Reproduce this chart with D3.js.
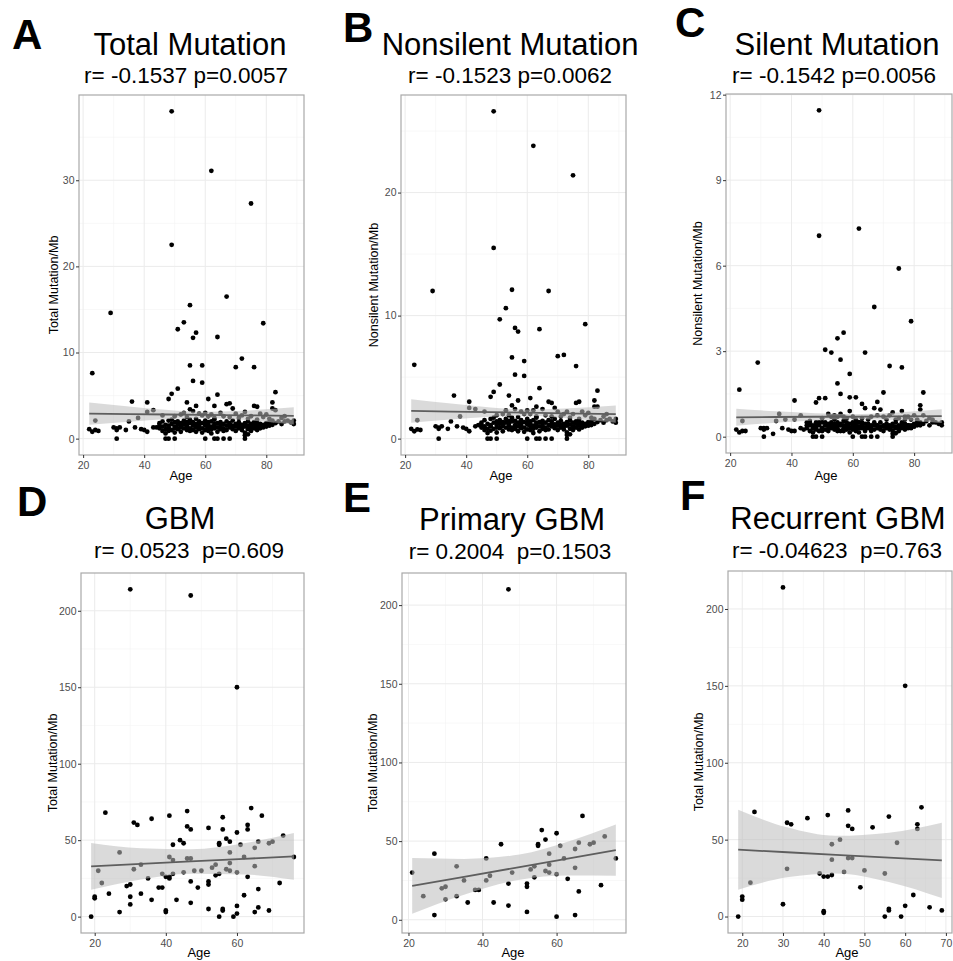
<!DOCTYPE html>
<html>
<head>
<meta charset="utf-8">
<script src="https://cdn.jsdelivr.net/npm/d3@7"></script>
<style>
  body { margin: 0; background: #fff; }
  svg text { font-family: "Liberation Sans", Arial, sans-serif; }
</style>
</head>
<body>
<svg id="fig" width="953" height="961"></svg>
<script>
// ---- TCGA cohort (panels A-C): same patients, age + mutation rates ----
var tcgaAge = [
  // outliers
  49,62,75,49,29,67,55,53,51,57, 56,64,79,23,55,59,72,70,76,56,
  59,51,49,48,83,61,64,36,41,54, 82,82,67,68,76,77,57,63,69,55, 83,
  // points inside the band
  24,35,38,41,43,46,50,52,53,54, 56,58,59,60,61,62,63,65,66,68,
  70,71,72,73,74,75,77,78,79,80, 81,84,85,86,87,88,
  // young, low
  22,23,24,25,30,31,31,31,32,34, 37,39,40,41,43,44,45,
  // zeros
  47,48,50,60,63,64,66,68,73,73,74,
  // dense cluster
  45,45, 46,46,46, 47,47,47, 48,48,48,48, 49,49,49,
  50,50,50,50, 51,51,51, 52,52,52,52, 53,53,53, 54,54,54,54,
  55,55,55,55, 56,56,56, 57,57,57,57, 58,58,58,58, 59,59,59,
  60,60,60,60, 61,61,61,61, 62,62,62,62, 63,63,63,63, 64,64,64,
  65,65,65,65, 66,66,66, 67,67,67, 68,68,68, 69,69,69,
  70,70,70, 71,71,71, 72,72,72, 73,73,73, 74,74,74,
  75,75,75, 76,76,76, 77,77,77, 78,78,78, 79,79,
  80,80, 81,81, 82,82, 83, 85, 86, 89,89
];
var tcgaTotal = [
  38.0,31.1,27.3,22.5,14.6,16.5,15.5,13.5,12.7,12.3, 11.7,11.8,13.4,7.6,8.5,8.5,9.3,8.3,8.3,6.7,
  6.5,5.8,5.2,4.6,5.4,4.6,5.1,4.3,4.2,4.2, 4.2,3.5,4.0,4.1,3.8,3.7,3.8,3.8,3.5,3.4, 3.3,
  2.1,2.0,2.4,3.1,3.3,2.7,2.6,2.8,3.0,2.5, 3.2,2.9,2.7,3.0,2.6,2.8,2.4,3.0,2.6,2.5,
  2.9,2.4,2.7,3.1,2.3,2.6,2.2,2.9,2.5,2.8, 2.3,2.0,2.4,2.6,2.1,1.9,
  1.1,0.8,1.0,0.9,1.3,1.0,1.2,0.0,1.3,1.0, 1.3,1.1,1.0,0.8,1.3,1.3,1.5,
  0,0,0,0,0,0,0,0,0,0.4,0.5,
  1.2,1.8, 1.4,0.9,2.0, 1.6,1.1,0.6, 1.5,2.1,0.9,1.3, 1.7,1.0,2.2,
  1.4,1.9,0.7,1.2, 1.6,1.1,2.0, 1.3,1.8,0.8,1.5, 1.7,1.2,2.1, 1.4,1.9,1.0,1.6,
  1.2,1.8,2.2,0.9, 1.5,1.0,1.9, 1.3,1.7,2.3,0.8, 1.6,1.1,2.0,1.4, 1.2,1.8,0.7,
  1.5,1.0,2.1,1.7, 1.3,1.9,0.9,1.6, 1.4,1.1,2.0,0.6, 1.7,1.2,1.5,2.2, 1.3,1.8,0.8,
  1.6,1.1,1.9,1.4, 1.2,1.7,0.9, 1.5,2.0,1.0, 1.3,1.8,1.6, 1.1,1.5,2.1,
  1.4,0.9,1.7, 1.2,1.9,1.5, 1.6,1.0,1.3, 1.8,1.4,0.7, 1.5,1.1,2.0,
  1.3,1.7,0.9, 1.6,1.2,1.9, 1.4,1.8,1.0, 1.5,1.2,1.7, 1.3,1.6,
  1.4,1.8, 1.5,1.9, 1.6,2.1, 1.8, 1.7, 2.0, 2.1,1.7
];
var tcgaNonsilent = [
  26.6,23.8,21.4,15.5,12.0,12.0,12.1,10.6,9.7,8.7, 9.0,8.9,9.3,6.0,6.6,6.3,6.8,6.7,5.9,5.2,
  5.1,4.4,3.8,3.4,3.9,3.3,4.1,3.5,3.0,3.5, 3.1,2.6,3.0,2.9,2.9,3.0,3.1,2.6,2.5,2.7, 2.6,
  1.5,1.4,1.8,2.5,2.4,2.2,1.9,2.0,2.3,1.9, 2.4,2.2,2.0,2.3,2.0,2.3,1.8,2.4,1.9,1.8,
  2.2,1.8,2.0,2.2,1.7,2.0,1.6,2.2,1.9,2.1, 1.7,1.5,1.8,2.0,1.6,1.4,
  0.8,0.6,0.75,0.7,1.0,0.8,0.9,0.0,1.0,0.8, 1.0,0.9,0.8,0.6,1.0,1.1,1.1,
  0,0,0,0,0,0,0,0,0,0.3,0.35,
  0.9,1.3, 1.0,0.7,1.5, 1.2,0.8,0.45, 1.1,1.6,0.65,1.0, 1.3,0.8,1.7,
  1.1,1.4,0.5,0.9, 1.2,0.85,1.5, 1.0,1.35,0.6,1.1, 1.3,0.9,1.6, 1.05,1.45,0.75,1.2,
  0.9,1.4,1.7,0.7, 1.1,0.8,1.45, 1.0,1.3,1.75,0.6, 1.2,0.85,1.5,1.05, 0.9,1.35,0.55,
  1.15,0.75,1.6,1.3, 1.0,1.4,0.7,1.2, 1.05,0.8,1.5,0.45, 1.3,0.9,1.15,1.7, 1.0,1.35,0.6,
  1.2,0.8,1.45,1.05, 0.9,1.3,0.7, 1.1,1.5,0.75, 1.0,1.4,1.2, 0.85,1.15,1.6,
  1.05,0.7,1.3, 0.9,1.45,1.1, 1.2,0.75,1.0, 1.35,1.05,0.5, 1.15,0.8,1.5,
  1.0,1.3,0.7, 1.2,0.9,1.4, 1.05,1.35,0.75, 1.1,0.9,1.3, 1.0,1.2,
  1.05,1.35, 1.1,1.4, 1.2,1.6, 1.35, 1.3, 1.5, 1.6,1.3
];
var tcgaSilent = [
  11.45,7.3,5.9,7.05,2.6,4.55,3.45,2.95,3.05,3.65, 2.7,2.95,4.05,1.65,1.87,2.2,2.48,1.55,2.43,1.5,
  1.38,1.35,1.35,1.2,1.55,1.38,1.0,0.8,1.27,0.75, 1.1,0.95,1.0,1.22,0.9,0.7,0.7,1.15,0.95,0.7, 0.75,
  0.55,0.55,0.6,0.6,0.75,0.55,0.65,0.8,0.7,0.6, 0.8,0.65,0.9,0.7,0.6,0.5,0.65,0.6,0.7,0.75,
  0.7,0.6,0.75,0.85,0.6,0.65,0.6,0.7,0.6,0.75, 0.6,0.55,0.65,0.6,0.5,0.45,
  0.25,0.15,0.2,0.2,0.3,0.25,0.3,0.0,0.3,0.1, 0.3,0.25,0.2,0.2,0.3,0.25,0.4,
  0,0,0,0,0,0,0,0,0,0.1,0.12,
  0.3,0.5, 0.4,0.2,0.5, 0.4,0.3,0.15, 0.4,0.5,0.25,0.3, 0.4,0.2,0.5,
  0.3,0.5,0.2,0.3, 0.4,0.25,0.5, 0.3,0.45,0.2,0.4, 0.4,0.3,0.5, 0.35,0.45,0.25,0.4,
  0.3,0.4,0.5,0.2, 0.4,0.2,0.45, 0.3,0.4,0.55,0.2, 0.4,0.25,0.5,0.35, 0.3,0.45,0.15,
  0.35,0.25,0.5,0.4, 0.3,0.5,0.2,0.4, 0.35,0.3,0.5,0.15, 0.4,0.3,0.35,0.5, 0.3,0.45,0.2,
  0.4,0.3,0.45,0.35, 0.3,0.4,0.2, 0.4,0.5,0.25, 0.3,0.4,0.4, 0.25,0.35,0.5,
  0.35,0.2,0.4, 0.3,0.45,0.4, 0.4,0.25,0.3, 0.45,0.35,0.2, 0.35,0.3,0.5,
  0.3,0.4,0.2, 0.4,0.3,0.5, 0.35,0.45,0.25, 0.4,0.3,0.4, 0.3,0.4,
  0.35,0.45, 0.4,0.5, 0.4,0.5, 0.45, 0.4, 0.5, 0.5,0.4
];

// ---- GBM cohorts (panels D-F) ----
var gbmAge = [
  30,47,60,19,20,20,21,22,23,24, 27,27,29,30,30,30,31,32,31,33,
  33,35,36,36,38,39,39,40,40,40, 41,41,41,41,42,42,42,43,44,45,
  45,46,46,46,47,47,47,47,48,49, 50,52,52,52,52,53,54,54,55,55,
  55,55,56,56,56,56,57,57,58,58, 58,58,59,60,60,60,60,61,62,62,
  63,63,63,64,65,65,65,66,66,66, 67,69,69,70,72,73,76
];
var gbmTotal = [
  214,210,150,0,13,12,30,22,68,15, 42,3,20,21,13,8,61.5,60,31,34,
  15,25,64,11,19,19,28,26,4,3, 66,26,25,39,47,37,28,11,50,48,
  29,69,59,38,38,57,23,9,30,19, 30,58,23,21,5,32,34,27,28,48,
  47,0,65,57,5,4,31,51,49,42, 35,30,0,55,29,7,2,47,39,14,
  60,57,26,71,45,33,3,49,18,6, 66,48,4,49,22,53,39
];
var primAge = [
  47,21,24,27,27,29,30,30,33,33, 35,36,38,39,41,41,42,43,45,47,
  47,48,52,52,52,53,54,54,55,55, 56,57,57,58,58,58,60,60,60,61,
  62,63,65,65,65,66,66,67,69,70, 72,73,76
];
var primTotal = [
  210,30,15,42,3,20,21,13,34,15, 25,11,19,19,39,25,28,11,48,23,
  9,30,23,21,5,32,34,27,48,47, 57,51,31,42,35,30,55,29,2,47,
  39,26,45,33,3,49,18,66,48,49, 22,53,39
];
var recAge = [
  30,60,19,20,20,22,23,30,31,31, 32,36,39,40,40,40,41,41,42,42,
  42,44,45,46,46,46,47,47,49,50, 52,55,55,56,56,56,58,59,60,62,
  63,63,64,66,69
];
var recTotal = [
  214,150,0,13,11,22,68,8,61,31, 60,64,28,26,3.5,2.4,66,26,47,37,
  27,50,29,69,59,38,38,57,19,30, 58,28,0,65,5,4,48,0,7,14,
  60,57,71,6,4
];

// ---- fitted lines and 95% bands ----
var tcgaFitAge    = [22, 35, 48, 60, 72, 89];
var totalFit      = [2.9, 2.85, 2.8, 2.76, 2.71, 2.65];
var totalLo       = [1.6, 1.96, 2.27, 2.41, 2.18, 1.65];
var totalHi       = [4.2, 3.74, 3.33, 3.11, 3.24, 3.65];
var nonsilentFit  = [2.25, 2.2, 2.15, 2.11, 2.06, 2.0];
var nonsilentLo   = [1.3, 1.55, 1.77, 1.86, 1.68, 1.3];
var nonsilentHi   = [3.2, 2.85, 2.53, 2.36, 2.44, 2.7];
var silentFit     = [0.68, 0.69, 0.70, 0.70, 0.71, 0.72];
var silentLo      = [0.38, 0.49, 0.58, 0.61, 0.59, 0.48];
var silentHi      = [0.98, 0.89, 0.82, 0.79, 0.83, 0.96];
var gbmFitAge  = [19, 33, 47, 62, 76];
var gbmFit     = [32.9, 34.5, 36.1, 37.8, 39.4];
var gbmLo      = [17.6, 24.3, 28.1, 27.6, 24.1];
var gbmHi      = [48.2, 44.7, 44.1, 48.0, 54.7];
var primFitAge = [21, 35, 50, 63, 76];
var primFit    = [21.5, 27.3, 33.5, 38.9, 44.3];
var primLo     = [3.8, 15.9, 25.5, 28.2, 28.0];
var primHi     = [39.2, 38.7, 41.5, 49.6, 60.6];
var recFitAge  = [19, 31, 43, 56, 69];
var recFit     = [43.5, 41.8, 40.1, 38.3, 36.5];
var recLo      = [17.5, 25.5, 28.0, 22.5, 12.0];
var recHi      = [69.5, 58.0, 52.5, 54.5, 61.0];

// ---- tick labels ----
var ageTicksTcga = [20, 40, 60, 80];
var ageTicksGbm  = [20, 40, 60];
var ageTicksRec  = [20, 30, 40, 50, 60, 70];
var totalTicks     = [0, 10, 20, 30];
var nonsilentTicks = [0, 10, 20];
var silentTicks    = [0, 3, 6, 9, 12];
var gbmTicks       = [0, 50, 100, 150, 200];

var panels = [
  {letter: "A", lx: 12, ly: 49, title: "Total Mutation", tx: 190, ty: 55,
   stat: "r= -0.1537 p=0.0057", sx: 186, sy: 83, ytitle: "Total Mutation/Mb", yx: 54, ageX: 181, ageY: 480,
   age: tcgaAge, val: tcgaTotal, fa: tcgaFitAge, fit: totalFit, lo: totalLo, hi: totalHi,
   xt: ageTicksTcga, yt: totalTicks, box: [79, 304, 95, 455]},
  {letter: "B", lx: 343, ly: 42, title: "Nonsilent Mutation", tx: 510, ty: 55,
   stat: "r= -0.1523 p=0.0062", sx: 510, sy: 83, ytitle: "Nonsilent Mutation/Mb", yx: 374, ageX: 501, ageY: 480,
   age: tcgaAge, val: tcgaNonsilent, fa: tcgaFitAge, fit: nonsilentFit, lo: nonsilentLo, hi: nonsilentHi,
   xt: ageTicksTcga, yt: nonsilentTicks, box: [401, 626, 95, 455]},
  {letter: "C", lx: 675, ly: 37, title: "Silent Mutation", tx: 837, ty: 55,
   stat: "r= -0.1542 p=0.0056", sx: 834, sy: 83, ytitle: "Nonsilent Mutation/Mb", yx: 698, ageX: 826, ageY: 480,
   age: tcgaAge, val: tcgaSilent, fa: tcgaFitAge, fit: silentFit, lo: silentLo, hi: silentHi,
   xt: ageTicksTcga, yt: silentTicks, box: [726, 952, 94, 453]},
  {letter: "D", lx: 17, ly: 516, title: "GBM", tx: 180, ty: 529,
   stat: "r= 0.0523  p=0.609", sx: 189, sy: 558, ytitle: "Total Mutation/Mb", yx: 53, ageX: 199, ageY: 957,
   age: gbmAge, val: gbmTotal, fa: gbmFitAge, fit: gbmFit, lo: gbmLo, hi: gbmHi,
   xt: ageTicksGbm, yt: gbmTicks, box: [81, 304, 573, 933]},
  {letter: "E", lx: 343, ly: 512, title: "Primary GBM", tx: 512, ty: 530,
   stat: "r= 0.2004  p=0.1503", sx: 510, sy: 559, ytitle: "Total Mutation/Mb", yx: 373, ageX: 513, ageY: 957,
   age: primAge, val: primTotal, fa: primFitAge, fit: primFit, lo: primLo, hi: primHi,
   xt: ageTicksGbm, yt: gbmTicks, box: [402, 626, 573, 933]},
  {letter: "F", lx: 680, ly: 510, title: "Recurrent GBM", tx: 838, ty: 529,
   stat: "r= -0.04623  p=0.763", sx: 837, sy: 558, ytitle: "Total Mutation/Mb", yx: 699, ageX: 847, ageY: 957,
   age: recAge, val: recTotal, fa: recFitAge, fit: recFit, lo: recLo, hi: recHi,
   xt: ageTicksRec, yt: gbmTicks, box: [728, 952, 571, 933]}
];

var svg = d3.select("#fig");

// ggplot-like 5% expansion
function padded(ext) {
  var d = (ext[1] - ext[0]) * 0.05;
  return [ext[0] - d, ext[1] + d];
}
function minors(ticks, dom) {
  var step = ticks[1] - ticks[0], out = [];
  for (var v = ticks[0] - step / 2; v <= dom[1]; v += step) {
    if (v >= dom[0]) out.push(v);
  }
  return out;
}
function styleAxis(sel) {
  sel.select(".domain").remove();
  sel.selectAll(".tick line").attr("stroke", "#333").attr("stroke-width", 1);
  sel.selectAll(".tick text")
    .attr("fill", "#4d4d4d")
    .attr("font-size", "10.5px")
    .attr("font-family", '"Liberation Sans", Arial, sans-serif');
}

function drawPanel(p) {
  var x0 = p.box[0], x1 = p.box[1], y0 = p.box[2], y1 = p.box[3];
  var xd = padded(d3.extent(p.age)), yd = padded(d3.extent(p.val));
  var x = d3.scaleLinear().domain(xd).range([x0, x1]);
  var y = d3.scaleLinear().domain(yd).range([y1, y0]);
  var g = svg.append("g");

  // grid
  g.selectAll(".vmin").data(minors(p.xt, xd)).join("line")
    .attr("x1", d => x(d)).attr("x2", d => x(d)).attr("y1", y0).attr("y2", y1)
    .attr("stroke", "#f4f4f4").attr("stroke-width", 0.6);
  g.selectAll(".hmin").data(minors(p.yt, yd)).join("line")
    .attr("y1", d => y(d)).attr("y2", d => y(d)).attr("x1", x0).attr("x2", x1)
    .attr("stroke", "#f4f4f4").attr("stroke-width", 0.6);
  g.selectAll(".vmaj").data(p.xt).join("line")
    .attr("x1", d => x(d)).attr("x2", d => x(d)).attr("y1", y0).attr("y2", y1)
    .attr("stroke", "#ebebeb").attr("stroke-width", 1);
  g.selectAll(".hmaj").data(p.yt.filter(d => d <= yd[1])).join("line")
    .attr("y1", d => y(d)).attr("y2", d => y(d)).attr("x1", x0).attr("x2", x1)
    .attr("stroke", "#ebebeb").attr("stroke-width", 1);

  // points
  g.append("g").selectAll("circle").data(d3.range(p.age.length)).join("circle")
    .attr("cx", i => x(p.age[i]))
    .attr("cy", i => y(p.val[i]))
    .attr("r", 2.4)
    .attr("fill", "#000");

  // confidence band + fit
  var idx = d3.range(p.fa.length);
  g.append("path").datum(idx)
    .attr("fill", "#bdbdbd").attr("fill-opacity", 0.56)
    .attr("d", d3.area()
      .x(i => x(p.fa[i])).y0(i => y(p.lo[i])).y1(i => y(p.hi[i]))
      .curve(d3.curveMonotoneX));
  g.append("path").datum(idx)
    .attr("fill", "none").attr("stroke", "#5e5e5e").attr("stroke-width", 1.8)
    .attr("d", d3.line().x(i => x(p.fa[i])).y(i => y(p.fit[i])));

  // border
  g.append("rect").attr("x", x0).attr("y", y0).attr("width", x1 - x0).attr("height", y1 - y0)
    .attr("fill", "none").attr("stroke", "#a9a9a9").attr("stroke-width", 1.2);

  // axes
  g.append("g").attr("transform", "translate(0," + y1 + ")")
    .call(d3.axisBottom(x).tickValues(p.xt).tickSize(3).tickPadding(3.5))
    .call(styleAxis);
  g.append("g").attr("transform", "translate(" + x0 + ",0)")
    .call(d3.axisLeft(y).tickValues(p.yt).tickSize(3).tickPadding(1.5))
    .call(styleAxis);

  // labels
  g.append("text").attr("x", p.ageX).attr("y", p.ageY).attr("text-anchor", "middle")
    .attr("font-size", "13px").text("Age");
  var yc = (y0 + y1) / 2 + 10;
  g.append("text").attr("transform", "translate(" + p.yx + "," + yc + ") rotate(-90)")
    .attr("text-anchor", "middle").attr("dy", "0.35em")
    .attr("font-size", "12.5px").text(p.ytitle);
  g.append("text").attr("x", p.tx).attr("y", p.ty).attr("text-anchor", "middle")
    .attr("font-size", "31px").text(p.title);
  g.append("text").attr("x", p.sx).attr("y", p.sy).attr("text-anchor", "middle")
    .attr("font-size", "22.5px").style("white-space", "pre").text(p.stat);
  g.append("text").attr("x", p.lx).attr("y", p.ly)
    .attr("font-size", "42px").attr("font-weight", "bold").text(p.letter);
}

panels.forEach(drawPanel);
</script>
</body>
</html>
